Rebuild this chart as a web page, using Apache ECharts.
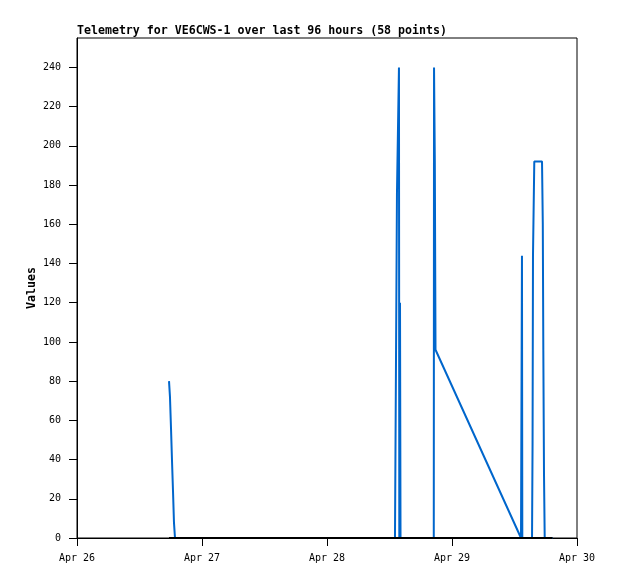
<!DOCTYPE html>
<html>
<head>
<meta charset="utf-8">
<script src="https://cdn.jsdelivr.net/npm/echarts@6/dist/echarts.min.js"></script>
<style>
html,body{margin:0;padding:0;background:#fff;}
#chart{width:618px;height:579px;}
</style>
</head>
<body>
<div id="chart"></div>
<script>
// Timestamps of the 58 telemetry points (Apr DD HH:MM)
var times = [
  '26 17:40','26 17:51','26 18:03','26 18:14','26 18:26','26 18:37','26 18:49',
  '26 21:19','27 00:02','27 02:30','27 05:11','27 07:52','27 10:34','27 13:03','27 15:45',
  '27 18:26','27 21:07','27 23:48','28 02:30','28 05:11','28 07:52','28 10:34','28 13:03',
  '28 13:24','28 13:26','28 13:49','28 13:53','28 14:01','28 14:07',
  '28 15:22','28 16:31','28 17:40','28 18:49','28 19:58',
  '28 20:30','28 20:33','28 20:42','28 20:50',
  '29 13:15','29 13:26','29 13:30',
  '29 14:24',
  '29 15:22','29 15:28','29 15:33','29 15:48',
  '29 16:13','29 16:39','29 16:59',
  '29 17:17','29 17:26','29 17:32','29 17:40','29 17:48',
  '29 18:08','29 18:32','29 18:55','29 19:18'
];
// Channel values (blue)
var values = [
  80,72,56,40,24,8,0,
  0,0,0,0,0,0,0,0,
  0,0,0,0,0,0,0,0,
  0,176,240,0,120,0,
  0,0,0,0,0,
  0,240,192,96,
  0,144,0,
  0,
  0,48,144,192,
  192,192,192,
  192,160,96,32,0,
  0,0,0,0
];
// Second channel (black), all zero
var values2 = [
  0,0,0,0,0,0,0, 0,0,0,0,0,0,0,0, 0,0,0,0,0,0,0,0,
  0,0,0,0,0,0, 0,0,0,0,0, 0,0,0,0, 0,0,0, 0,
  0,0,0,0, 0,0,0, 0,0,0,0,0, 0,0,0,0
];
var dayLabels = ['Apr 26','Apr 27','Apr 28','Apr 29','Apr 30'];
var yTicks = [0,20,40,60,80,100,120,140,160,180,200,220,240];

function toHours(t){
  var p = t.split(' ');
  var d = parseInt(p[0],10);
  var hm = p[1].split(':');
  return (d-26)*24 + parseInt(hm[0],10) + parseInt(hm[1],10)/60;
}
var s1 = times.map(function(t,i){ return [toHours(t), values[i]]; });
var s2 = times.map(function(t,i){ return [toHours(t), values2[i]]; });

var FONT = 'DejaVu Sans Mono';
var chart = echarts.init(document.getElementById('chart'), null, {renderer:'canvas'});
chart.setOption({
  animation: false,
  backgroundColor: '#fff',
  title: {
    text: 'Telemetry for VE6CWS-1 over last 96 hours (58 points)',
    left: 77, top: 25, padding: 0,
    textStyle: {fontFamily: FONT, fontSize: 11.6, fontWeight: 'bold', color: '#000'}
  },
  grid: {left: 77, right: 41, top: 38, bottom: 41, show: true, borderColor: '#000', borderWidth: 1, backgroundColor: 'transparent'},
  xAxis: {
    type: 'value', min: 0, max: 96, interval: 24,
    axisLine: {show: true, lineStyle: {color: '#000', width: 1}},
    axisTick: {show: true, length: 8, lineStyle: {color: '#000'}},
    axisLabel: {
      margin: 15, color: '#000', fontFamily: FONT, fontSize: 10,
      formatter: function(v){ return dayLabels[Math.round(v/24)] || ''; }
    },
    splitLine: {show: false}
  },
  yAxis: {
    type: 'value', min: 0, max: 255,
    name: 'Values', nameLocation: 'middle', nameGap: 39, nameRotate: 90,
    nameMoveOverlap: false,
    nameTextStyle: {fontFamily: FONT, fontSize: 11.6, fontWeight: 'bold', color: '#000'},
    axisLine: {show: true, lineStyle: {color: '#000', width: 1}},
    axisTick: {show: true, length: 8, customValues: yTicks, lineStyle: {color: '#000'}},
    axisLabel: {margin: 16, color: '#000', fontFamily: FONT, fontSize: 10, customValues: yTicks},
    splitLine: {show: false}
  },
  series: [
    {type: 'line', data: s1, showSymbol: false, symbol: 'none', lineStyle: {color: '#0066CC', width: 2}, z: 2},
    {type: 'line', data: s2, showSymbol: false, symbol: 'none', lineStyle: {color: '#000', width: 2}, z: 3}
  ]
});
</script>
</body>
</html>
